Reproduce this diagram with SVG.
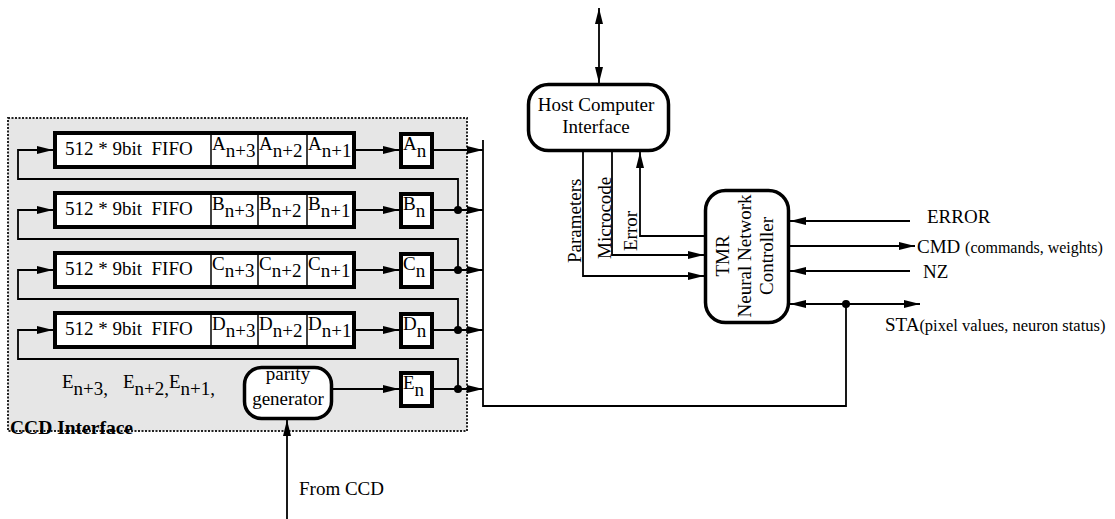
<svg xmlns="http://www.w3.org/2000/svg" width="1115" height="519" viewBox="0 0 1115 519">
<style>
.t{font-family:"Liberation Serif","Times New Roman",serif;font-size:19px;fill:#000}
.s{font-size:16px}
.s2{font-size:16.5px}
.b{font-weight:bold}
.thick{fill:#fff;stroke:#000;stroke-width:4}
.med{fill:#fff;stroke:#000;stroke-width:3.5}
.ln{fill:none;stroke:#000;stroke-width:1.8}
.div{stroke:#000;stroke-width:1.5}
.dot{fill:#000}
</style>
<defs>
<marker id="ah" viewBox="0 0 16 8" refX="16" refY="4" markerWidth="16" markerHeight="8" markerUnits="userSpaceOnUse" orient="auto-start-reverse">
<path d="M0,0 L16,4 L0,8 Z" fill="#000"/>
</marker>
</defs>

<g id="ccd-interface">
<rect x="8" y="118" width="459" height="313" fill="#e6e6e6" stroke="#222" stroke-width="2" stroke-dasharray="2 1.5"/>
<text class="t b" x="10" y="434" font-size="17" textLength="123" lengthAdjust="spacingAndGlyphs">CCD Interface</text>
</g>

<g id="fifo-a">
<rect class="thick" x="55" y="133" width="299" height="34"/>
<line class="div" x1="211" y1="133" x2="211" y2="167"/>
<line class="div" x1="258" y1="133" x2="258" y2="167"/>
<line class="div" x1="307" y1="133" x2="307" y2="167"/>
<text class="t" x="65" y="155" xml:space="preserve">512 * 9bit  FIFO</text>
<text class="t" x="212" y="150">A<tspan dy="7">n+3</tspan></text>
<text class="t" x="259" y="150">A<tspan dy="7">n+2</tspan></text>
<text class="t" x="308" y="150">A<tspan dy="7">n+1</tspan></text>
</g>
<g id="fifo-b">
<rect class="thick" x="55" y="193" width="299" height="34"/>
<line class="div" x1="211" y1="193" x2="211" y2="227"/>
<line class="div" x1="258" y1="193" x2="258" y2="227"/>
<line class="div" x1="307" y1="193" x2="307" y2="227"/>
<text class="t" x="65" y="215" xml:space="preserve">512 * 9bit  FIFO</text>
<text class="t" x="212" y="210">B<tspan dy="7">n+3</tspan></text>
<text class="t" x="259" y="210">B<tspan dy="7">n+2</tspan></text>
<text class="t" x="308" y="210">B<tspan dy="7">n+1</tspan></text>
</g>
<g id="fifo-c">
<rect class="thick" x="55" y="253" width="299" height="34"/>
<line class="div" x1="211" y1="253" x2="211" y2="287"/>
<line class="div" x1="258" y1="253" x2="258" y2="287"/>
<line class="div" x1="307" y1="253" x2="307" y2="287"/>
<text class="t" x="65" y="275" xml:space="preserve">512 * 9bit  FIFO</text>
<text class="t" x="212" y="270">C<tspan dy="7">n+3</tspan></text>
<text class="t" x="259" y="270">C<tspan dy="7">n+2</tspan></text>
<text class="t" x="308" y="270">C<tspan dy="7">n+1</tspan></text>
</g>
<g id="fifo-d">
<rect class="thick" x="55" y="313" width="299" height="34"/>
<line class="div" x1="211" y1="313" x2="211" y2="347"/>
<line class="div" x1="258" y1="313" x2="258" y2="347"/>
<line class="div" x1="307" y1="313" x2="307" y2="347"/>
<text class="t" x="65" y="335" xml:space="preserve">512 * 9bit  FIFO</text>
<text class="t" x="212" y="330">D<tspan dy="7">n+3</tspan></text>
<text class="t" x="259" y="330">D<tspan dy="7">n+2</tspan></text>
<text class="t" x="308" y="330">D<tspan dy="7">n+1</tspan></text>
</g>
<g id="e-values">
<text class="t" x="62" y="388">E<tspan dy="7">n+3,</tspan></text>
<text class="t" x="123" y="388">E<tspan dy="7">n+2,</tspan></text>
<text class="t" x="169" y="388">E<tspan dy="7">n+1,</tspan></text>
</g>

<g id="reg-a"><rect class="thick" x="401" y="134" width="31" height="33"/><text class="t" x="403" y="150">A<tspan dy="7">n</tspan></text></g>
<g id="reg-b"><rect class="thick" x="401" y="194" width="31" height="33"/><text class="t" x="403" y="210">B<tspan dy="7">n</tspan></text></g>
<g id="reg-c"><rect class="thick" x="401" y="254" width="31" height="33"/><text class="t" x="403" y="270">C<tspan dy="7">n</tspan></text></g>
<g id="reg-d"><rect class="thick" x="401" y="314" width="31" height="33"/><text class="t" x="403" y="330">D<tspan dy="7">n</tspan></text></g>
<g id="reg-e"><rect class="thick" x="401" y="373" width="31" height="33"/><text class="t" x="403" y="389">E<tspan dy="7">n</tspan></text></g>

<g id="parity-generator">
<rect class="med" x="244.5" y="367.5" width="87" height="51" rx="17"/>
<text class="t" x="288" y="380" text-anchor="middle">parity</text>
<text class="t" x="288" y="405" text-anchor="middle">generator</text>
</g>

<g id="host-computer-interface">
<rect class="med" x="528.5" y="84.5" width="140" height="66" rx="20"/>
<text class="t" x="596" y="111" text-anchor="middle">Host Computer</text>
<text class="t" x="596" y="133" text-anchor="middle">Interface</text>
</g>

<g id="nn-controller">
<rect class="med" x="705.5" y="190.5" width="83" height="132" rx="20"/>
<text class="t" transform="translate(729,256) rotate(-90)" text-anchor="middle">TMR</text>
<text class="t" transform="translate(751,256) rotate(-90)" text-anchor="middle">Neural Network</text>
<text class="t" transform="translate(773,256) rotate(-90)" text-anchor="middle">Controller</text>
</g>

<g id="connectors">
<polyline class="ln" points="458,210 458,179 18,179 18,150 53,150" marker-end="url(#ah)"/>
<polyline class="ln" points="458,270 458,239 18,239 18,210 53,210" marker-end="url(#ah)"/>
<polyline class="ln" points="458,330 458,299 18,299 18,270 53,270" marker-end="url(#ah)"/>
<polyline class="ln" points="458,389 458,359 18,359 18,330 53,330" marker-end="url(#ah)"/>
<line class="ln" x1="356" y1="150" x2="399" y2="150" marker-end="url(#ah)"/>
<line class="ln" x1="356" y1="210" x2="399" y2="210" marker-end="url(#ah)"/>
<line class="ln" x1="356" y1="270" x2="399" y2="270" marker-end="url(#ah)"/>
<line class="ln" x1="356" y1="330" x2="399" y2="330" marker-end="url(#ah)"/>
<line class="ln" x1="333" y1="389" x2="399" y2="389" marker-end="url(#ah)"/>
<line class="ln" x1="434" y1="150" x2="483" y2="150" marker-end="url(#ah)"/>
<line class="ln" x1="434" y1="210" x2="483" y2="210" marker-end="url(#ah)"/>
<line class="ln" x1="434" y1="270" x2="483" y2="270" marker-end="url(#ah)"/>
<line class="ln" x1="434" y1="330" x2="483" y2="330" marker-end="url(#ah)"/>
<line class="ln" x1="434" y1="389" x2="483" y2="389" marker-end="url(#ah)"/>
<circle class="dot" cx="458" cy="210" r="4"/>
<circle class="dot" cx="458" cy="270" r="4"/>
<circle class="dot" cx="458" cy="330" r="4"/>
<circle class="dot" cx="458" cy="389" r="4"/>
<polyline class="ln" points="483,140 483,406 846,406 846,304"/>
<circle class="dot" cx="846" cy="304" r="4"/>
<line class="ln" x1="287" y1="519" x2="287" y2="420" marker-end="url(#ah)"/>
<line class="ln" x1="599" y1="8" x2="599" y2="83" marker-start="url(#ah)" marker-end="url(#ah)"/>
<polyline class="ln" points="583,152 583,276 704,276" marker-end="url(#ah)"/>
<polyline class="ln" points="612,152 612,255 704,255" marker-end="url(#ah)"/>
<polyline class="ln" points="704,236 640,236 640,152" marker-end="url(#ah)"/>
<line class="ln" x1="910" y1="221" x2="790" y2="221" marker-end="url(#ah)"/>
<line class="ln" x1="790" y1="246" x2="915" y2="246" marker-end="url(#ah)"/>
<line class="ln" x1="910" y1="271" x2="790" y2="271" marker-end="url(#ah)"/>
<line class="ln" x1="790" y1="304" x2="920" y2="304" marker-start="url(#ah)" marker-end="url(#ah)"/>
</g>

<g id="labels">
<text class="t" transform="translate(581,263) rotate(-90)">Parameters</text>
<text class="t" transform="translate(611,259) rotate(-90)">Microcode</text>
<text class="t" transform="translate(637,251) rotate(-90)">Error</text>
<text class="t" x="927" y="223">ERROR</text>
<text class="t" x="917" y="253">CMD <tspan class="s">(commands, weights)</tspan></text>
<text class="t" x="923" y="278">NZ</text>
<text class="t" x="885" y="331">STA<tspan class="s2">(pixel values, neuron status)</tspan></text>
<text class="t" x="299" y="495">From CCD</text>
</g>
</svg>
